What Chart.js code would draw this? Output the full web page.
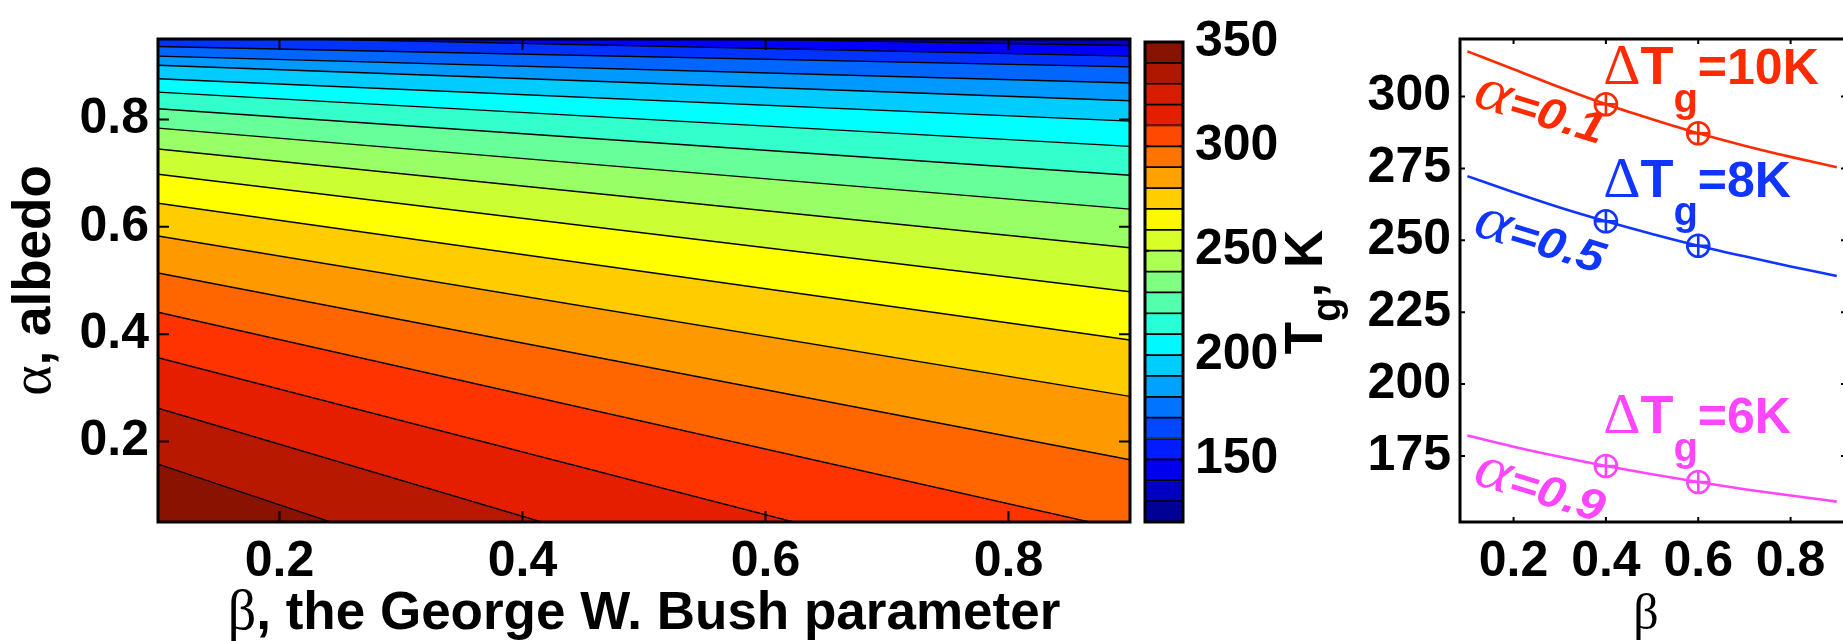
<!DOCTYPE html>
<html lang="en">
<head>
<meta charset="UTF-8">
<title>Ground temperature vs albedo and beta</title>
<script src="https://cdn.jsdelivr.net/npm/chart.js@4.4.0/dist/chart.umd.min.js"></script>
<style>
  html, body { margin: 0; padding: 0; background: #fff; overflow: hidden; }
  #wrap { position: relative; width: 1843px; height: 641px; }
  canvas { position: absolute; top: 0; }
</style>
</head>
<body>
<div id="wrap">
  <canvas id="contour" width="1140" height="641" style="left:0px"></canvas>
  <canvas id="colorbar" width="210" height="641" style="left:1140px"></canvas>
  <canvas id="curves" width="496" height="641" style="left:1350px"></canvas>
</div>
<script>
// ---- values ----
// isotherms of the filled contour plot (K)
const contourLevels = [130, 140, 150, 160, 170, 180, 190, 200, 210, 220, 230, 240, 250, 260, 270, 280, 290, 300, 310];
const contourBeta = [0.1, 0.9];
// albedo where each isotherm crosses beta = 0.1 and beta = 0.9 (outside 0.05..0.95 extrapolated)
const alphaAtBetaMin = [0.978, 0.968, 0.956, 0.936, 0.918, 0.901, 0.876, 0.851, 0.820, 0.784, 0.745, 0.698, 0.644, 0.583, 0.514, 0.441, 0.356, 0.262, 0.158];
const alphaAtBetaMax = [0.955, 0.938, 0.918, 0.898, 0.868, 0.835, 0.797, 0.750, 0.696, 0.633, 0.561, 0.479, 0.389, 0.284, 0.166, 0.033, -0.112, -0.275, -0.450];
const alphaTicks = [0.2, 0.4, 0.6, 0.8];
const betaTicks = [0.2, 0.4, 0.6, 0.8];

// colour bar boxes (lower edge of each 10 K box)
const colorbarLevels = [120, 130, 140, 150, 160, 170, 180, 190, 200, 210, 220, 230, 240, 250, 260, 270, 280, 290, 300, 310, 320, 330, 340];
const colorbarTicks = [150, 200, 250, 300, 350];

// right panel: Tg against beta for three albedos
const curveBeta = [0.1, 0.2, 0.3, 0.4, 0.5, 0.6, 0.7, 0.8, 0.9];
const curveAlbedo = [0.1, 0.5, 0.9];
const tgAlbedo01 = [315.7, 309.5, 303.2, 297.3, 292.1, 287.2, 282.9, 279.0, 275.4];
const tgAlbedo05 = [272.3, 266.7, 261.4, 256.6, 252.2, 248.1, 244.4, 240.9, 237.6];
const tgAlbedo09 = [182.1, 178.2, 174.7, 171.5, 168.6, 165.9, 163.4, 161.2, 159.1];
const markerBeta = [0.4, 0.6];
const deltaTg = [10, 8, 6];
const tgTicks = [175, 200, 225, 250, 275, 300];

// ---- helpers ----
const SANS = '"Liberation Sans", Arial, Helvetica, sans-serif';
const SERIF = '"Liberation Serif", "Times New Roman", serif';
const TICK_FONT = { family: SANS, size: 50, weight: 'bold' };

Chart.defaults.font.family = SANS;
Chart.defaults.color = '#000';

// MATLAB-like jet colour map, v in 0..1 (dark reds get the slight brown tint of the original)
function jet(v) {
  const c = x => Math.round(255 * Math.max(0, Math.min(1, x)));
  let r = 1.5 - Math.abs(4 * v - 3);
  let g = 1.5 - Math.abs(4 * v - 2);
  const b = 1.5 - Math.abs(4 * v - 1);
  if (v > 0.84) { r = Math.min(r, 1) * 0.9; g = Math.max(g, 0.13 * r); }
  return `rgb(${c(r)},${c(g)},${c(b)})`;
}

// draw text made of several font runs on one baseline, optionally stretched sideways
function drawRuns(ctx, parts, x, y, align, sx) {
  sx = sx || 1;
  let total = 0;
  parts.forEach(p => { ctx.font = p.font; p.w = ctx.measureText(p.t).width; total += p.w; });
  let cx = align === 'center' ? -total / 2 : (align === 'right' ? -total : 0);
  ctx.save();
  ctx.translate(x, y);
  ctx.scale(sx, 1);
  parts.forEach(p => {
    ctx.font = p.font;
    ctx.fillText(p.t, cx, p.dy || 0);
    cx += p.w;
  });
  ctx.restore();
}

const fixedTicks = list => scale => { scale.ticks = list.map(v => ({ value: v })); };

// box round the axes and inward tick marks on all sides
const framePlugin = {
  id: 'frame',
  afterDatasetsDraw(chart, args, opts) {
    const { ctx, chartArea: a, scales } = chart;
    ctx.save();
    ctx.strokeStyle = '#000';
    ctx.lineWidth = opts.tickWidth;
    ctx.beginPath();
    (opts.xTicks || []).forEach(v => {
      const px = scales.x.getPixelForValue(v);
      ctx.moveTo(px, a.bottom); ctx.lineTo(px, a.bottom - opts.len);
      ctx.moveTo(px, a.top); ctx.lineTo(px, a.top + opts.len);
    });
    (opts.yTicks || []).forEach(v => {
      const py = scales.y.getPixelForValue(v);
      ctx.moveTo(a.left, py); ctx.lineTo(a.left + opts.len, py);
      ctx.moveTo(a.right, py); ctx.lineTo(a.right - opts.len, py);
    });
    ctx.stroke();
    ctx.lineWidth = opts.width;
    ctx.strokeRect(a.left, a.top, a.right - a.left, a.bottom - a.top);
    ctx.restore();
  }
};

// ---- left: filled contours ----
const contourDatasets = contourLevels.map((level, i) => ({
  label: level + ' K',
  data: [
    { x: contourBeta[0], y: alphaAtBetaMin[i] },
    { x: contourBeta[1], y: alphaAtBetaMax[i] }
  ],
  borderColor: '#000',
  borderWidth: 1.4,
  pointRadius: 0,
  tension: 0,
  fill: 'start',
  backgroundColor: jet((level + 5 - 120) / 200)
})).reverse(); // hottest band drawn last, on top

const contourTitles = {
  id: 'contourTitles',
  afterDraw(chart) {
    const { ctx, chartArea: a } = chart;
    ctx.save();
    ctx.fillStyle = '#000';
    ctx.textBaseline = 'alphabetic';
    ctx.textAlign = 'left';
    drawRuns(ctx, [
      { t: 'β', font: `56px ${SERIF}` },
      { t: ', the George W. Bush parameter', font: `bold 53px ${SANS}` }
    ], (a.left + a.right) / 2, 629, 'center');
    ctx.translate(50, (a.top + a.bottom) / 2);
    ctx.rotate(-Math.PI / 2);
    drawRuns(ctx, [
      { t: 'α', font: `58px ${SERIF}` },
      { t: ', albedo', font: `bold 53px ${SANS}` }
    ], 0, 0, 'center');
    ctx.restore();
  }
};

new Chart(document.getElementById('contour'), {
  type: 'line',
  data: { datasets: contourDatasets },
  options: {
    responsive: false,
    animation: false,
    devicePixelRatio: 1,
    layout: { autoPadding: false, padding: { left: 0, top: 26, right: 10, bottom: 0 } },
    plugins: {
      legend: { display: false },
      tooltip: { enabled: false },
      frame: { width: 3, tickWidth: 2, len: 11, xTicks: betaTicks, yTicks: alphaTicks }
    },
    scales: {
      x: {
        type: 'linear', min: 0.1, max: 0.9,
        afterBuildTicks: fixedTicks(betaTicks),
        afterFit: s => { s.height = 119; },
        grid: { display: false, drawTicks: false },
        border: { display: false },
        ticks: { font: TICK_FONT, color: '#000', padding: 10, maxRotation: 0, autoSkip: false, callback: v => v.toFixed(1) }
      },
      y: {
        type: 'linear', min: 0.05, max: 0.95,
        afterBuildTicks: fixedTicks(alphaTicks),
        afterFit: s => { s.width = 158; },
        grid: { display: false, drawTicks: false },
        border: { display: false },
        ticks: { font: TICK_FONT, color: '#000', padding: 9, autoSkip: false, callback: v => v.toFixed(1) }
      }
    }
  },
  plugins: [framePlugin, contourTitles]
});

// ---- colour bar ----
const colorbarTitle = {
  id: 'colorbarTitle',
  afterDraw(chart) {
    const { ctx, chartArea: a } = chart;
    ctx.save();
    ctx.fillStyle = '#000';
    ctx.textBaseline = 'alphabetic';
    ctx.textAlign = 'left';
    ctx.translate(182, (a.top + a.bottom) / 2 + 10);
    ctx.rotate(-Math.PI / 2);
    drawRuns(ctx, [
      { t: 'T', font: `bold 53px ${SANS}` },
      { t: 'g', font: `bold 40px ${SANS}`, dy: 18 },
      { t: ', K', font: `bold 53px ${SANS}` }
    ], 0, 0, 'center');
    ctx.restore();
  }
};

new Chart(document.getElementById('colorbar'), {
  type: 'bar',
  data: {
    labels: ['Tg'],
    datasets: colorbarLevels.map(level => ({
      label: level + ' K',
      data: [[level, level + 10]],
      backgroundColor: jet((level + 5 - 120) / 230),
      borderColor: '#000',
      borderWidth: 1.2,
      borderSkipped: false,
      grouped: false,
      barPercentage: 1,
      categoryPercentage: 1
    }))
  },
  options: {
    responsive: false,
    animation: false,
    devicePixelRatio: 1,
    layout: { autoPadding: false, padding: { left: 5, top: 26, right: 0, bottom: 119 } },
    plugins: {
      legend: { display: false },
      tooltip: { enabled: false },
      frame: { width: 3, tickWidth: 2, len: 4, yTicks: colorbarTicks.slice(0, -1) }
    },
    scales: {
      x: { display: false },
      y: {
        type: 'linear', position: 'right', min: 120, max: 350,
        afterBuildTicks: fixedTicks(colorbarTicks),
        afterFit: s => { s.width = 167; },
        grid: { display: false, drawTicks: false },
        border: { display: false },
        ticks: { font: TICK_FONT, color: '#000', padding: 12, autoSkip: false }
      }
    }
  },
  plugins: [framePlugin, colorbarTitle]
});

// ---- right: Tg against beta ----
const curveColors = ['#ff2a00', '#1035ff', '#ff45ff'];
const curveValues = [tgAlbedo01, tgAlbedo05, tgAlbedo09];

const curveDatasets = [];
curveValues.forEach((vals, k) => {
  curveDatasets.push({
    label: 'alpha=' + curveAlbedo[k],
    data: curveBeta.map((b, i) => ({ x: b, y: vals[i] })),
    borderColor: curveColors[k],
    borderWidth: 2.6,
    pointRadius: 0,
    cubicInterpolationMode: 'monotone',
    fill: false
  });
  ['circle', 'cross'].forEach(style => {
    curveDatasets.push({
      label: 'marker',
      data: markerBeta.map(b => ({ x: b, y: vals[curveBeta.indexOf(b)] })),
      showLine: false,
      pointStyle: style,
      pointRadius: 11,
      pointBorderWidth: 2.6,
      pointBorderColor: curveColors[k],
      pointBackgroundColor: 'rgba(0,0,0,0)'
    });
  });
});

const curveNotes = {
  id: 'curveNotes',
  afterDatasetsDraw(chart, args, opts) {
    const { ctx, scales: { x, y } } = chart;
    ctx.save();
    ctx.textBaseline = 'alphabetic';
    ctx.textAlign = 'left';
    opts.delta.forEach((n, k) => {
      ctx.fillStyle = curveColors[k];
      drawRuns(ctx, [
        { t: 'Δ', font: `58px ${SERIF}` },
        { t: 'T', font: `bold 54px ${SANS}` },
        { t: 'g', font: `bold 40px ${SANS}`, dy: 28 },
        { t: '=' + deltaTg[k] + 'K', font: `bold 50px ${SANS}` }
      ], x.getPixelForValue(n.beta), y.getPixelForValue(n.tg), 'left');
    });
    opts.albedo.forEach((n, k) => {
      ctx.save();
      ctx.fillStyle = curveColors[k];
      ctx.translate(x.getPixelForValue(n.beta), y.getPixelForValue(n.tg));
      ctx.rotate(opts.angle * Math.PI / 180);
      drawRuns(ctx, [
        { t: 'α', font: `italic 62px ${SERIF}` },
        { t: '=' + curveAlbedo[k], font: `italic bold 44px ${SANS}` }
      ], 0, 0, 'left', 1.12);
      ctx.restore();
    });
    ctx.restore();
  },
  afterDraw(chart) {
    const { ctx } = chart;
    ctx.save();
    ctx.fillStyle = '#000';
    ctx.textAlign = 'center';
    ctx.textBaseline = 'alphabetic';
    ctx.font = `50px ${SERIF}`;
    ctx.fillText('β', 1646 - 1350, 629);
    ctx.restore();
  }
};

new Chart(document.getElementById('curves'), {
  type: 'line',
  data: { datasets: curveDatasets },
  options: {
    responsive: false,
    animation: false,
    devicePixelRatio: 1,
    layout: { autoPadding: false, padding: { left: 0, top: 26, right: 0, bottom: 0 } },
    plugins: {
      legend: { display: false },
      tooltip: { enabled: false },
      frame: { width: 3, tickWidth: 2, len: 5, xTicks: betaTicks, yTicks: tgTicks },
      curveNotes: {
        angle: 17,
        delta: [{ beta: 0.394, tg: 304.4 }, { beta: 0.394, tg: 265.0 }, { beta: 0.394, tg: 182.9 }],
        albedo: [{ beta: 0.109, tg: 297.0 }, { beta: 0.109, tg: 252.0 }, { beta: 0.109, tg: 165.5 }]
      }
    },
    scales: {
      x: {
        type: 'linear', min: 0.084, max: 0.92,
        afterBuildTicks: fixedTicks(betaTicks),
        afterFit: s => { s.height = 119; },
        grid: { display: false, drawTicks: false },
        border: { display: false },
        ticks: { font: TICK_FONT, color: '#000', padding: 10, maxRotation: 0, autoSkip: false, callback: v => v.toFixed(1) }
      },
      y: {
        type: 'linear', min: 152, max: 320,
        afterBuildTicks: fixedTicks(tgTicks),
        afterFit: s => { s.width = 110; },
        grid: { display: false, drawTicks: false },
        border: { display: false },
        ticks: { font: TICK_FONT, color: '#000', padding: 9, autoSkip: false }
      }
    }
  },
  plugins: [framePlugin, curveNotes]
});
</script>
</body>
</html>
